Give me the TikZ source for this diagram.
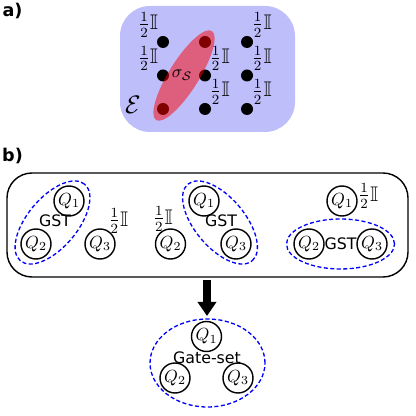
\documentclass[tikz,border=0pt]{standalone}
\usepackage{amsmath,amssymb}
\usepackage{fontspec}
\setsansfont{DejaVu Sans}
\usetikzlibrary{arrows.meta, calc}
\definecolor{envblue}{RGB}{190,190,251}

\begin{document}
\begin{tikzpicture}[
        qubit/.style={draw, circle, line width=0.8pt, minimum size=0.6cm, inner sep=0pt},
        spin/.style={fill=black, circle, minimum size=0.24cm, inner sep=0pt},
        gsell/.style={draw=blue, dash pattern=on 2.3pt off 1.4pt, line width=0.75pt},
        mixed/.style={inner sep=0pt, font=\large},
        tag/.style={font=\sffamily\small},
    ]
            \useasboundingbox (0,0) rectangle (8.3,8.32);
            
            % a)
            \node[font=\sffamily\bfseries] (la) at (0.25,8.1) {a)};
            \fill[envblue, rounded corners=0.6cm] (2.4,5.68) rectangle (5.9,8.2);
            
            \foreach \x/\c in {3.26/1, 4.1/2, 4.94/3} {
                \foreach \y/\r in {7.48/1, 6.81/2, 6.14/3} {
                    \node[spin] (d\r\c) at (\x,\y) {};
                }
            }
            \foreach \n in {d11, d21} {
                \node[mixed, anchor=south east] at (\n.north west) {$\frac{1}{2}\mathbb{I}$};
            }
            \foreach \n in {d13, d22, d23, d32, d33} {
                \node[mixed, anchor=south west] at (\n.north east) {$\frac{1}{2}\mathbb{I}$};
            }
            
            \fill[red, fill opacity=0.5] ($(d31)!0.5!(d12)$) ellipse [x radius=1.05cm, y radius=0.3cm, rotate=58];
            \node (sig) at (3.64,6.82) {$\sigma_{\mathcal{S}}$};
            \node (env) at (2.66,6.22) {\Large$\mathcal{E}$};
            
            % b)
            \node[font=\sffamily\bfseries] (lb) at (0.25,5.2) {b)};
            \draw[line width=0.8pt, rounded corners=0.5cm] (0.14,2.78) rectangle (8.16,4.86);
            
            \node[qubit] (a1) at (1.38,4.3) {$Q_1$};
            \node[qubit] (a2) at (0.72,3.44) {$Q_2$};
            \node[qubit] (a3) at (2.0,3.44) {$Q_3$};
            \node[tag] (agst) at (1.1,3.9) {GST};
            \node[mixed] (aid) at (2.37,3.9) {$\frac{1}{2}\mathbb{I}$};
            \draw[gsell] ($(a1)!0.5!(a2)$) ellipse [x radius=1.0cm, y radius=0.5cm, rotate=50];
            
            \node[qubit] (b1) at (4.08,4.3) {$Q_1$};
            \node[qubit] (b2) at (3.41,3.44) {$Q_2$};
            \node[qubit] (b3) at (4.72,3.44) {$Q_3$};
            \node[tag] (bgst) at (4.42,3.9) {GST};
            \node[mixed] (bid) at (3.26,3.94) {$\frac{1}{2}\mathbb{I}$};
            \draw[gsell] ($(b1)!0.5!(b3)$) ellipse [x radius=1.0cm, y radius=0.5cm, rotate=-50];
            
            \node[qubit] (c1) at (6.84,4.3) {$Q_1$};
            \node[qubit] (c2) at (6.18,3.44) {$Q_2$};
            \node[qubit] (c3) at (7.44,3.44) {$Q_3$};
            \node[tag] (cgst) at ($(c2)!0.5!(c3)$) {GST};
            \node[mixed, anchor=west] (cid) at (7.16,4.4) {$\frac{1}{2}\mathbb{I}$};
            \draw[gsell] (cgst) ellipse [x radius=1.08cm, y radius=0.5cm];
            
            \coordinate (from) at (4.14,2.72);
            \coordinate (to) at (4.14,2.0);
            \draw[-{Triangle[width=0.36cm,length=0.28cm]}, line width=0.15cm] (from) -- (to);
            
            \node[qubit] (s1) at (4.13,1.59) {$Q_1$};
            \node[qubit] (s2) at (3.5,0.76) {$Q_2$};
            \node[qubit] (s3) at (4.76,0.76) {$Q_3$};
            \node[tag] (gs) at (4.14,1.16) {Gate-set};
            \draw[gsell] (4.15,1.06) ellipse [x radius=1.15cm, y radius=0.88cm];
            
        \end{tikzpicture}
\end{document}
